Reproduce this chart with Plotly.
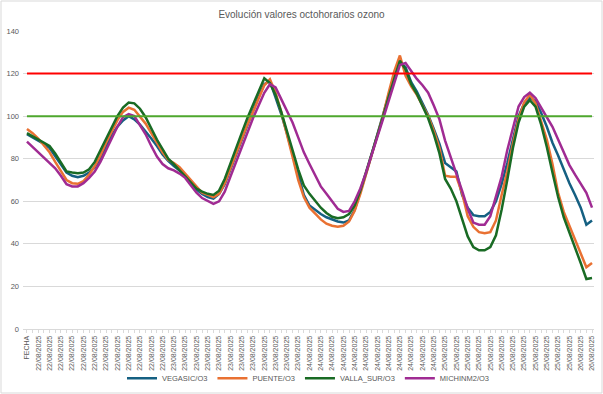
import plotly.graph_objects as go

# Category labels (one per hourly point; first category is the header "FECHA")
categories = (["FECHA"] + ["22/08/2025"] * 24 + ["23/08/2025"] * 24 +
              ["24/08/2025"] * 24 + ["25/08/2025"] * 24 + ["26/08/2025"] * 4)

vegasic = [91.5, 90, 88.5, 87, 85, 81, 77, 73.5, 72, 71.3,
           72, 73.5, 76, 80, 85.5, 91, 95, 98, 100, 98.5,
           96, 93, 89.5, 86, 82, 79, 76.5, 74.5, 72, 68.5,
           65.5, 63.5, 62, 61.3, 63.5, 68, 75, 82, 89, 96,
           102.5, 109, 115, 116.5, 109, 101, 92, 82, 72, 63,
           58, 56, 54, 52.5, 51.5, 50.5, 50, 51, 56, 64,
           73, 82, 91, 100, 110, 119, 125.5, 123, 116, 111.5,
           106, 100.5, 94, 87, 78, 76, 74, 63, 57, 53.5,
           53, 53, 55, 60, 68, 78, 89, 100, 106, 108.8,
           107, 101.5, 95, 87.5, 81.5, 75, 68.5, 63, 57, 49,
           51]

puente = [94, 92, 89.5, 86.5, 83, 78.5, 74, 70, 68.5, 68.2,
          69.5, 72.5, 76.5, 81.5, 87.5, 93, 98, 102, 104, 103,
          100, 96.5, 92, 87.5, 83, 79.5, 78, 76, 73, 70,
          67, 64, 63, 62, 63.5, 68.5, 75.5, 82.5, 89.5, 96,
          102, 108.5, 114.5, 117.3, 111, 102, 92, 81, 70, 62,
          57, 54, 51.5, 49.5, 48.5, 48, 48.5, 50.5, 55.5, 63.5,
          72.5, 82, 91, 100, 111, 121, 128.5, 119, 114, 110,
          105, 100, 93, 85, 72, 71.5, 71.5, 64, 53, 48,
          45.5, 45, 45.5, 51, 63, 74, 87, 98.5, 106.5, 110,
          106, 98, 89, 77.5, 64, 55, 48.5, 42, 36, 29,
          31]

valla_sur = [92, 90.5, 89, 87.5, 86, 82.5, 78, 74, 73.5, 73.2,
             73.5, 75, 78.5, 84, 89.5, 95, 100, 104, 106.4, 106,
             103.5, 99.5, 94, 89, 84.5, 80, 77.5, 74.5, 71.5, 68.5,
             66, 64.5, 63.5, 63, 65, 70.5, 78, 85, 92, 99,
             105.5, 112, 117.8, 115.5, 110, 102, 93.5, 84, 75, 67.5,
             63.5, 60, 57, 54.5, 52.7, 52, 52.5, 54, 58, 65,
             73.5, 82, 91, 99.5, 109, 118, 126, 122, 115, 110.5,
             105, 99, 91.5, 82.5, 70.5, 66, 60, 52, 43.5, 38.5,
             37, 37, 38.5, 44, 56, 70, 85, 97, 104.5, 107.5,
             104.5, 96, 85.5, 73.5, 62, 52.5, 45.5, 38, 31, 23.5,
             24]

michinm2 = [88, 85.5, 83, 80.5, 78, 75.5, 72, 68, 67, 67,
            68.5, 71, 74, 78.5, 84, 89.5, 95, 99.5, 101, 100,
            96, 91.5, 86, 81, 77.5, 75.5, 74.5, 73, 71, 67.5,
            64, 61.5, 60, 58.8, 60, 64.5, 71.5, 78.5, 85.5, 92.5,
            99, 105, 111, 115, 113.5, 108, 102.5, 97, 90, 83,
            77.5, 72, 67, 63.5, 60, 56.5, 55, 55.5, 60, 66,
            73.5, 81.5, 90, 98.5, 107, 116, 124, 125, 121, 117.5,
            114.5, 111, 105, 98.5, 88.5, 81, 73.5, 65, 56.5, 50,
            49, 49, 53, 62, 71.5, 84, 95, 104.5, 109, 111,
            108.5, 104, 99.7, 95, 89, 83, 77, 72.5, 68, 64,
            57]

series_names = ["VEGASIC/O3", "PUENTE/O3", "VALLA_SUR/O3", "MICHINM2/O3"]
series_values = [vegasic, puente, valla_sur, michinm2]
series_colors = ["#156082", "#E97132", "#196B24", "#A02B93"]

threshold_values = [120, 100]
threshold_colors = ["#FF0000", "#4EA72E"]

x_idx = list(range(len(categories)))

fig = go.Figure()
for name, vals, col in zip(series_names, series_values, series_colors):
    fig.add_trace(go.Scatter(x=x_idx, y=vals, mode="lines", name=name,
                             line=dict(color=col, width=2.5)))

for v, c in zip(threshold_values, threshold_colors):
    fig.add_shape(type="line", xref="x", yref="y", x0=x_idx[0], x1=x_idx[-1],
                  y0=v, y1=v, line=dict(color=c, width=2), layer="above")

# chart-area border
W, H = 603, 394
ml, mr, mt, mb = 23, 9, 31, 65
pw, ph = W - ml - mr, H - mt - mb
fig.add_shape(type="rect", xref="paper", yref="paper",
              x0=(1 - ml) / pw, x1=(W - 1 - ml) / pw,
              y0=-(mb - 1) / ph, y1=1 + (mt - 1) / ph,
              line=dict(color="#D9D9D9", width=1), fillcolor="rgba(0,0,0,0)", layer="below")

fig.update_layout(
    width=W, height=H,
    margin=dict(l=ml, r=mr, t=mt, b=mb, autoexpand=False),
    paper_bgcolor="white", plot_bgcolor="white",
    font=dict(family="Liberation Sans, Arial, sans-serif", color="#595959"),
    title=dict(text="Evolución valores octohorarios ozono", x=0.5, xref="container",
               y=1 - 14 / H, yref="container", xanchor="center", yanchor="middle",
               font=dict(size=10, color="#595959")),
    showlegend=True,
    legend=dict(orientation="h", x=0.5, xanchor="center", y=-0.165, yanchor="middle",
                font=dict(size=7.5, color="#595959"), itemwidth=30,
                bgcolor="rgba(0,0,0,0)"),
    xaxis=dict(range=[-0.7, 100.35], tickmode="array",
               tickvals=x_idx[::2], ticktext=categories[::2],
               tickangle=-90, tickfont=dict(size=7, color="#595959"),
               showgrid=False, zeroline=False, showline=True, linecolor="#D9D9D9",
               ticks="outside", ticklen=3, tickcolor="#D9D9D9", automargin=False,
               minor=dict(tick0=1, dtick=2, ticks="outside", ticklen=3,
                          tickcolor="#D9D9D9", showgrid=False)),
    yaxis=dict(range=[0, 140], dtick=20, showgrid=True, gridcolor="#D9D9D9",
               gridwidth=1, zeroline=False, showline=False, automargin=False,
               tickfont=dict(size=7.5, color="#595959"), ticks="", ticklabelstandoff=3),
)

fig.write_html("out.html", config={"displayModeBar": False},
               post_script="document.body.style.margin='0';document.body.style.overflow='hidden';")
